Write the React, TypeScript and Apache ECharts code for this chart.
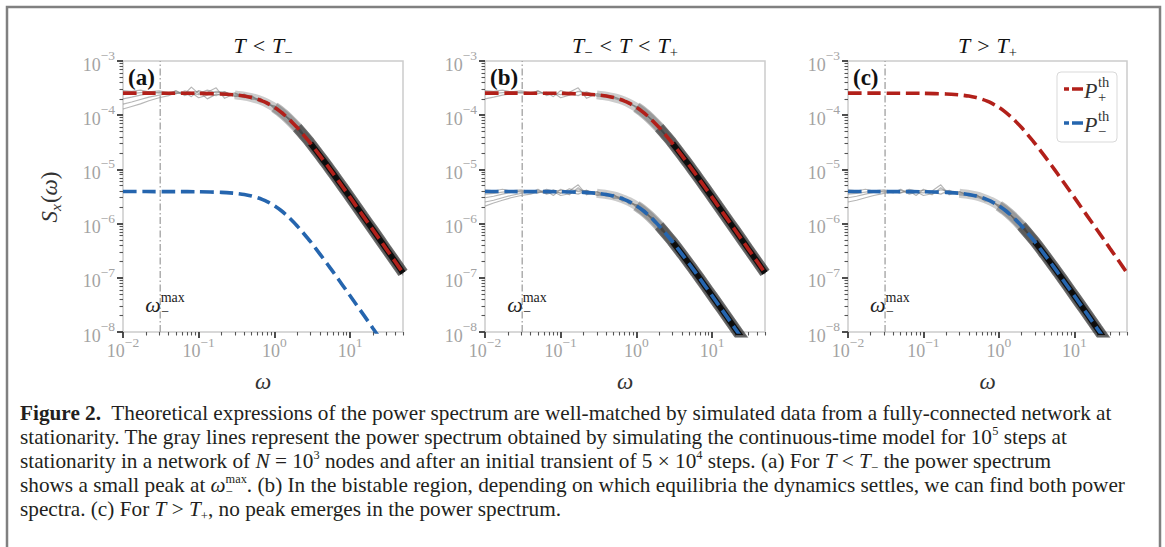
import React, { useEffect, useRef } from 'react';
import * as echarts from 'echarts';

// ---------------- data ----------------
const THEORY_W = [0.01, 0.02, 0.05, 0.1, 0.2, 0.3, 0.4, 0.5, 0.6, 0.7, 0.8, 1, 1.2, 1.5, 2, 2.5, 3, 4, 5, 6, 8, 10, 12, 15, 20, 25, 30, 40, 50];
const P_PLUS_TH = [2.55e-4, 2.55e-4, 2.545e-4, 2.529e-4, 2.468e-4, 2.373e-4, 2.253e-4, 2.113e-4, 1.965e-4, 1.815e-4, 1.668e-4, 1.396e-4, 1.164e-4, 8.92e-5, 5.92e-5, 4.12e-5, 3.03e-5, 1.79e-5, 1.18e-5, 8.29e-6, 4.73e-6, 3.05e-6, 2.12e-6, 1.36e-6, 7.69e-7, 4.93e-7, 3.42e-7, 1.93e-7, 1.23e-7];
const P_MINUS_TH = [3.9e-6, 3.9e-6, 3.89e-6, 3.87e-6, 3.775e-6, 3.63e-6, 3.445e-6, 3.232e-6, 3.006e-6, 2.776e-6, 2.551e-6, 2.136e-6, 1.781e-6, 1.364e-6, 9.06e-7, 6.3e-7, 4.63e-7, 2.74e-7, 1.8e-7, 1.27e-7, 7.23e-8, 4.66e-8, 3.25e-8, 2.09e-8, 1.176e-8, 7.54e-9, 5.24e-9, 2.95e-9, 1.89e-9];

const SIM_W = [0.01, 0.013, 0.017, 0.022, 0.03, 0.04, 0.05, 0.065, 0.08, 0.1, 0.13, 0.17, 0.22, 0.3, 0.4, 0.5, 0.65, 0.8, 1, 1.3, 1.7, 2.2, 3, 4, 5, 6.5, 8, 10, 13, 17, 22, 30, 40, 50];
const SIM_PLUS_1 = [1.3e-4, 1.45e-4, 1.62e-4, 1.85e-4, 2.1e-4, 2.3e-4, 2.6e-4, 2.45e-4, 3.3e-4, 2.5e-4, 2.9e-4, 2.6e-4, 2.7e-4, 2.2e-4, 2.45e-4, 1.95e-4, 2.05e-4, 1.55e-4, 1.5e-4, 1.0e-4, 8.2e-5, 4.8e-5, 3.3e-5, 1.65e-5, 1.3e-5, 6.6e-6, 5.2e-6, 2.8e-6, 2.0e-6, 9.8e-7, 7.0e-7, 3.1e-7, 2.1e-7, 1.1e-7];
const SIM_PLUS_2 = [1.6e-4, 1.75e-4, 1.95e-4, 2.15e-4, 2.35e-4, 2.55e-4, 2.5e-4, 2.8e-4, 2.65e-4, 2.75e-4, 2.0e-4, 2.45e-4, 2.3e-4, 2.6e-4, 2.1e-4, 2.3e-4, 1.75e-4, 1.8e-4, 1.3e-4, 1.15e-4, 7.0e-5, 5.5e-5, 2.8e-5, 1.95e-5, 1.08e-5, 7.8e-6, 4.3e-6, 3.3e-6, 1.65e-6, 1.15e-6, 5.8e-7, 3.7e-7, 1.78e-7, 1.34e-7];
const SIM_PLUS_3 = [2.0e-4, 2.15e-4, 2.35e-4, 2.5e-4, 2.65e-4, 2.45e-4, 2.85e-4, 2.3e-4, 2.55e-4, 2.4e-4, 2.65e-4, 3.2e-4, 2.05e-4, 2.5e-4, 2.3e-4, 2.15e-4, 1.95e-4, 1.6e-4, 1.45e-4, 1.02e-4, 7.9e-5, 4.9e-5, 3.15e-5, 1.7e-5, 1.24e-5, 6.8e-6, 4.95e-6, 2.9e-6, 1.9e-6, 1.01e-6, 6.7e-7, 3.25e-7, 2.02e-7, 1.17e-7];
const SIM_PLUS_4 = [2.4e-4, 2.5e-4, 2.6e-4, 2.7e-4, 2.55e-4, 2.6e-4, 2.5e-4, 2.65e-4, 2.2e-4, 2.85e-4, 2.5e-4, 2.3e-4, 2.7e-4, 2.25e-4, 2.2e-4, 2.05e-4, 1.82e-4, 1.75e-4, 1.35e-4, 1.1e-4, 7.2e-5, 5.3e-5, 2.9e-5, 1.88e-5, 1.13e-5, 7.4e-6, 4.5e-6, 3.2e-6, 1.72e-6, 1.11e-6, 6.1e-7, 3.6e-7, 1.85e-7, 1.29e-7];
const SIM_PLUS_5 = [2.85e-4, 2.75e-4, 2.9e-4, 2.7e-4, 2.8e-4, 2.6e-4, 2.75e-4, 2.45e-4, 2.6e-4, 2.1e-4, 2.35e-4, 2.75e-4, 2.6e-4, 2.35e-4, 2.35e-4, 2.2e-4, 1.85e-4, 1.7e-4, 1.42e-4, 1.08e-4, 7.6e-5, 5.0e-5, 3.0e-5, 1.82e-5, 1.18e-5, 7.0e-6, 4.8e-6, 3.0e-6, 1.85e-6, 1.05e-6, 6.4e-7, 3.4e-7, 1.95e-7, 1.2e-7];
const SIM_MINUS_1 = [2.1e-6, 2.4e-6, 2.7e-6, 3.0e-6, 3.3e-6, 3.5e-6, 3.9e-6, 3.6e-6, 4.2e-6, 3.6e-6, 4.4e-6, 3.9e-6, 4.1e-6, 3.3e-6, 3.6e-6, 2.9e-6, 3.1e-6, 2.3e-6, 2.25e-6, 1.5e-6, 1.25e-6, 7.2e-7, 5.0e-7, 2.5e-7, 1.95e-7, 1.0e-7, 7.9e-8, 4.3e-8, 3.0e-8, 1.5e-8, 1.05e-8, 4.8e-9, 3.0e-9, 2.0e-9];
const SIM_MINUS_2 = [2.5e-6, 2.7e-6, 3.0e-6, 3.3e-6, 3.6e-6, 3.9e-6, 3.7e-6, 4.3e-6, 4.0e-6, 4.1e-6, 3.4e-6, 4.6e-6, 3.5e-6, 3.9e-6, 3.2e-6, 3.45e-6, 2.6e-6, 2.7e-6, 2.0e-6, 1.75e-6, 1.05e-6, 8.4e-7, 4.2e-7, 2.95e-7, 1.65e-7, 1.17e-7, 6.6e-8, 5.0e-8, 2.5e-8, 1.75e-8, 8.9e-9, 5.6e-9, 2.7e-9, 2.0e-9];
const SIM_MINUS_3 = [3.0e-6, 3.2e-6, 3.5e-6, 3.75e-6, 4.0e-6, 3.7e-6, 4.3e-6, 3.5e-6, 3.8e-6, 3.7e-6, 4.0e-6, 5.2e-6, 3.4e-6, 3.8e-6, 3.45e-6, 3.25e-6, 3.0e-6, 2.45e-6, 2.2e-6, 1.55e-6, 1.2e-6, 7.5e-7, 4.8e-7, 2.6e-7, 1.88e-7, 1.03e-7, 7.6e-8, 4.4e-8, 2.9e-8, 1.55e-8, 1.02e-8, 5.0e-9, 3.1e-9, 1.8e-9];
const SIM_MINUS_4 = [3.5e-6, 3.6e-6, 3.8e-6, 4.0e-6, 3.8e-6, 3.9e-6, 3.7e-6, 4.0e-6, 3.3e-6, 4.3e-6, 3.8e-6, 3.5e-6, 4.1e-6, 3.4e-6, 3.3e-6, 3.1e-6, 2.75e-6, 2.65e-6, 2.05e-6, 1.7e-6, 1.1e-6, 8.1e-7, 4.4e-7, 2.85e-7, 1.72e-7, 1.13e-7, 6.9e-8, 4.9e-8, 2.6e-8, 1.7e-8, 9.3e-9, 5.5e-9, 2.8e-9, 1.95e-9];
const SIM_MINUS_5 = [4.2e-6, 4.0e-6, 4.3e-6, 4.0e-6, 4.2e-6, 3.9e-6, 4.1e-6, 3.7e-6, 3.9e-6, 3.3e-6, 3.55e-6, 4.2e-6, 4.0e-6, 3.55e-6, 3.55e-6, 3.35e-6, 2.8e-6, 2.55e-6, 2.15e-6, 1.65e-6, 1.15e-6, 7.7e-7, 4.6e-7, 2.75e-7, 1.8e-7, 1.07e-7, 7.3e-8, 4.55e-8, 2.8e-8, 1.6e-8, 9.6e-9, 5.3e-9, 2.9e-9, 1.9e-9];

const OMEGA_MAX = 0.031;
const X_MIN = 0.01;
const X_MAX = 50;
const Y_MIN = 1e-8;
const Y_MAX = 1e-3;
const X_DECADES = [-2, -1, 0, 1];
const Y_DECADES = [-8, -7, -6, -5, -4, -3];
const MINOR_FACTORS = [2, 3, 4, 5, 6, 7, 8, 9];

const PANEL_SIMS_PLUS = [[SIM_PLUS_1, SIM_PLUS_2, SIM_PLUS_3, SIM_PLUS_4, SIM_PLUS_5], [SIM_PLUS_3, SIM_PLUS_4, SIM_PLUS_5], []];
const PANEL_SIMS_MINUS = [[], [SIM_MINUS_1, SIM_MINUS_2, SIM_MINUS_3, SIM_MINUS_4, SIM_MINUS_5], [SIM_MINUS_2, SIM_MINUS_3, SIM_MINUS_4, SIM_MINUS_5]];
const PANEL_BAND_PLUS = [true, true, false];
const PANEL_BAND_MINUS = [false, true, true];
const PANEL_LETTERS = ['(a)', '(b)', '(c)'];

// ---------------- style ----------------
const FONT = '"Liberation Serif", "Times New Roman", Times, serif';
const RED = '#b2201a';
const BLUE = '#2565ae';
const TICK_LABEL = '#a3a3a3';
const GRIDS = [
  { left: 123, top: 61, width: 280, height: 271 },
  { left: 485, top: 61, width: 280, height: 271 },
  { left: 848, top: 61, width: 279, height: 271 },
];

type Seg = { t: string; it?: boolean; bd?: boolean; k?: number; dy?: number; hold?: boolean; pl?: number; pr?: number };

let measureCtx: CanvasRenderingContext2D | null = null;
function textWidth(t: string, size: number, it?: boolean, bd?: boolean): number {
  if (!measureCtx) measureCtx = document.createElement('canvas').getContext('2d');
  if (!measureCtx) return t.length * size * 0.5;
  measureCtx.font = `${it ? 'italic ' : ''}${bd ? 'bold ' : ''}${size}px ${FONT}`;
  return measureCtx.measureText(t).width;
}

function layoutSegs(segs: Seg[], base: number) {
  const placed: any[] = [];
  let x = 0;
  let hold = -1;
  for (const s of segs) {
    const size = base * (s.k ?? 1);
    const w = textWidth(s.t, size, s.it, s.bd);
    if (hold < 0) x += s.pl ?? 0;
    placed.push({ s, x, size });
    if (s.hold) { hold = w; continue; }
    x += Math.max(w, hold < 0 ? 0 : hold) + (s.pr ?? 0);
    hold = -1;
  }
  return { placed, width: x };
}

function mathText(segs: Seg[], base: number, x0: number, yc: number, color: string, align = 'left', z = 50): any[] {
  const { placed, width } = layoutSegs(segs, base);
  const start = align === 'center' ? x0 - width / 2 : align === 'right' ? x0 - width : x0;
  return placed.map((p) => ({
    type: 'text',
    silent: true,
    z,
    x: start + p.x,
    y: yc + (p.s.dy ?? 0) * base,
    style: {
      text: p.s.t,
      fontSize: p.size,
      fontFamily: FONT,
      fontStyle: p.s.it ? 'italic' : 'normal',
      fontWeight: p.s.bd ? 'bold' : 'normal',
      fill: color,
      align: 'left',
      verticalAlign: 'middle',
      textAlign: 'left',
      textVerticalAlign: 'middle',
    },
  }));
}

const T: Seg = { t: 'T', it: true };
const rel = (c: string): Seg => ({ t: c, pl: 7, pr: 7 });
const sub = (t: string): Seg => ({ t, k: 0.66, dy: 0.3 });
const capSub = (t: string): Seg => ({ t, k: 0.6, dy: 0.34 });
const capSup = (t: string, hold = false): Seg => ({ t, k: 0.58, dy: -0.28, hold });

const PANEL_TITLES: Seg[][] = [
  [T, rel('<'), T, sub('−')],
  [T, sub('−'), rel('<'), T, rel('<'), T, sub('+')],
  [T, rel('>'), T, sub('+')],
];

const CAPTION_LINES: Seg[][] = [
  [{ t: 'Figure 2.', bd: true }, { t: '  Theoretical expressions of the power spectrum are well-matched by simulated data from a fully-connected network at' }],
  [{ t: 'stationarity. The gray lines represent the power spectrum obtained by simulating the continuous-time model for 10' }, capSup('5'), { t: ' steps at' }],
  [{ t: 'stationarity in a network of ' }, { t: 'N', it: true }, { t: ' = 10' }, capSup('3'), { t: ' nodes and after an initial transient of 5 × 10' }, capSup('4'), { t: ' steps. (a) For ' }, { t: 'T', it: true }, { t: ' < ' }, { t: 'T', it: true }, capSub('−'), { t: ' the power spectrum' }],
  [{ t: 'shows a small peak at ' }, { t: 'ω', it: true }, capSup('max', true), capSub('−'), { t: '. (b) In the bistable region, depending on which equilibria the dynamics settles, we can find both power' }],
  [{ t: 'spectra. (c) For ' }, { t: 'T', it: true }, { t: ' > ' }, { t: 'T', it: true }, capSub('+'), { t: ', no peak emerges in the power spectrum.' }],
];

const LEGEND_ITEMS = [
  { color: RED, sub: '+' },
  { color: BLUE, sub: '−' },
];

// ---------------- option ----------------
const lg = (v: number) => Math.log10(v);
const toXY = (ws: number[], vs: number[]) => ws.map((w, i) => [lg(w), lg(vs[i])]);
const onlyFrom = (ws: number[], vs: number[], from: number) =>
  toXY(ws, vs).filter((_, i) => ws[i] >= from);

function minorTicks(decades: number[], hi: number): number[] {
  const out: number[] = [];
  for (const d of decades) for (const k of MINOR_FACTORS) {
    const v = d + lg(k);
    if (v <= hi + 1e-9) out.push(v);
  }
  return out;
}

const labelFmt = (v: number) => {
  const n = Math.round(v);
  return `{b|10}{s|${n < 0 ? '−' : ''}${Math.abs(n)}}`;
};
const labelRich = {
  b: { fontSize: 18, fontFamily: FONT, color: TICK_LABEL, lineHeight: 25, verticalAlign: 'bottom' },
  s: { fontSize: 13.5, fontFamily: FONT, color: TICK_LABEL, lineHeight: 14, verticalAlign: 'top' },
};

function buildOption(): any {
  const xLo = lg(X_MIN), xHi = lg(X_MAX), yLo = lg(Y_MIN), yHi = lg(Y_MAX);
  const xMinor = minorTicks(X_DECADES, xHi);
  const yMinor = minorTicks(Y_DECADES.slice(0, -1), yHi);
  const grid: any[] = [];
  const xAxis: any[] = [];
  const yAxis: any[] = [];
  const series: any[] = [];

  const line = (i: number, data: any[], lineStyle: any, z: number, extra: any = {}) => ({
    type: 'line', xAxisIndex: 2 * i, yAxisIndex: 2 * i, data, symbol: 'none', symbolSize: 0, showSymbol: false,
    silent: true, clip: true, animation: false, lineStyle, z, emphasis: { disabled: true }, ...extra,
  });
  const axisBase = (i: number, lo: number, hi: number, position: string) => ({
    type: 'value', gridIndex: i, min: lo, max: hi, position, offset: 0,
    axisLine: { show: false, onZero: false }, splitLine: { show: false },
  });
  const labelBase = (margin: number) => ({
    show: true, margin, formatter: labelFmt, rich: labelRich,
    fontSize: 18, fontFamily: FONT, color: TICK_LABEL,
  });

  GRIDS.forEach((g, i) => {
    grid.push({ ...g, show: true, borderColor: '#cccccc', borderWidth: 1.5, backgroundColor: '#ffffff', containLabel: false, outerBoundsMode: 'none' });
    xAxis.push({
      ...axisBase(i, xLo, xHi, 'bottom'),
      axisTick: { show: true, customValues: X_DECADES, length: 6, lineStyle: { color: '#3a3a3a', width: 1.8 } },
      axisLabel: { ...labelBase(3), customValues: X_DECADES },
    });
    xAxis.push({
      ...axisBase(i, xLo, xHi, 'bottom'),
      axisLabel: { show: false },
      axisTick: { show: true, customValues: xMinor, length: 3.5, lineStyle: { color: '#555555', width: 1.1 } },
    });
    yAxis.push({
      ...axisBase(i, yLo, yHi, 'left'),
      axisTick: { show: true, customValues: Y_DECADES, length: 6, lineStyle: { color: '#3a3a3a', width: 1.8 } },
      axisLabel: { ...labelBase(8), customValues: Y_DECADES },
    });
    yAxis.push({
      ...axisBase(i, yLo, yHi, 'left'),
      axisLabel: { show: false },
      axisTick: { show: true, customValues: yMinor, length: 3.5, lineStyle: { color: '#555555', width: 1.1 } },
    });

    const sims = [...PANEL_SIMS_PLUS[i], ...PANEL_SIMS_MINUS[i]];
    sims.forEach((arr) => series.push(line(i, toXY(SIM_W, arr), { color: 'rgba(130,130,130,0.58)', width: 1.2, join: 'round' }, 2)));
    const bands: number[][] = [];
    if (PANEL_BAND_PLUS[i]) bands.push(P_PLUS_TH);
    if (PANEL_BAND_MINUS[i]) bands.push(P_MINUS_TH);
    bands.forEach((th) => {
      series.push(line(i, onlyFrom(THEORY_W, th, 0.3), { color: 'rgba(110,110,110,0.35)', width: 9, cap: 'butt' }, 3, { smooth: 0.2 }));
      series.push(line(i, onlyFrom(THEORY_W, th, 1), { color: 'rgba(60,60,60,0.35)', width: 11, cap: 'butt' }, 3, { smooth: 0.2 }));
      series.push(line(i, onlyFrom(THEORY_W, th, 2), { color: 'rgba(30,30,30,0.5)', width: 11, cap: 'butt' }, 3, { smooth: 0.2 }));
      series.push(line(i, onlyFrom(THEORY_W, th, 3), { color: 'rgba(5,5,5,0.9)', width: 6, cap: 'butt' }, 4, { smooth: 0.2 }));
    });
    series.push(line(i, [[lg(OMEGA_MAX), yLo], [lg(OMEGA_MAX), yHi]], { color: '#a0a0a0', width: 1.3, type: [7, 2.5, 1.5, 2.5] }, 5));
    series.push(line(i, toXY(THEORY_W, P_PLUS_TH), { color: RED, width: 3.6, type: [13.5, 5.8], cap: 'butt' }, 6, { smooth: 0.2 }));
    series.push(line(i, toXY(THEORY_W, P_MINUS_TH), { color: BLUE, width: 3.6, type: [13.5, 5.8], cap: 'butt' }, 6, { smooth: 0.2 }));
  });

  return { animation: false, backgroundColor: '#ffffff', grid, xAxis, yAxis, series };
}

function buildGraphics(chart: any): any[] {
  const els: any[] = [];
  els.push({ type: 'rect', silent: true, z: 60, shape: { x: 7, y: 7, width: 1153, height: 620 }, style: { fill: 'none', stroke: '#808080', lineWidth: 2.5 } });

  GRIDS.forEach((g, i) => {
    const cx = g.left + g.width / 2;
    els.push(...mathText(PANEL_TITLES[i], 22, cx, 45, '#111111', 'center'));
    els.push(...mathText([{ t: PANEL_LETTERS[i], bd: true }], 23, g.left + 5, 77, '#111111'));
    els.push(...mathText([{ t: 'ω', it: true }], 23, cx, 381, '#333333', 'center'));
    const p = chart.convertToPixel({ gridIndex: i }, [lg(OMEGA_MAX), lg(Y_MIN)]);
    if (p) {
      const px = p[0];
      const by = p[1];
      const wW = textWidth('ω', 22, true);
      els.push(...mathText([{ t: 'ω', it: true }], 22, px - wW + 0.5, by - 28, '#222222'));
      els.push(...mathText([{ t: 'max' }], 14, px + 0.5, by - 35, '#222222'));
      els.push(...mathText([{ t: '−' }], 14, px + 1, by - 21, '#222222'));
    }
  });

  const yl: Seg[] = [{ t: 'S', it: true }, { t: 'x', it: true, k: 0.68, dy: 0.3, pr: 1 }, { t: '(' }, { t: 'ω', it: true }, { t: ')' }];
  els.push({ type: 'group', x: 49, y: 197, rotation: Math.PI / 2, children: mathText(yl, 23, 0, 0, '#333333', 'center') });

  els.push({ type: 'rect', silent: true, z: 40, shape: { x: 1057, y: 72, width: 60, height: 70, r: 4 }, style: { fill: 'rgba(255,255,255,0.85)', stroke: '#d9d9d9', lineWidth: 1 } });
  LEGEND_ITEMS.forEach((it, k) => {
    const y = 89 + k * 34;
    els.push({ type: 'line', silent: true, z: 41, shape: { x1: 1064, y1: y, x2: 1083, y2: y }, style: { stroke: it.color, lineWidth: 3.6, lineDash: [5, 3, 13.5, 5.8] } });
    const pW = textWidth('P', 22, true);
    els.push(...mathText([{ t: 'P', it: true }], 22, 1084, y + 1, '#333333', 'left', 42));
    els.push(...mathText([{ t: 'th' }], 14.5, 1084 + pW + 0.5, y - 7, '#333333', 'left', 42));
    els.push(...mathText([{ t: it.sub }], 14.5, 1084 + pW + 0.5, y + 8, '#333333', 'left', 42));
  });

  const refW = layoutSegs(CAPTION_LINES[0], 19.5).width;
  let cs = refW > 0 ? (19.5 * 1092) / refW : 19.5;
  cs = Math.max(17, Math.min(21.5, cs));
  CAPTION_LINES.forEach((segs, k) => {
    els.push(...mathText(segs, cs, 20, 413 + k * 24, '#231f20'));
  });
  return els;
}

export default function App() {
  const ref = useRef<HTMLDivElement>(null);
  useEffect(() => {
    if (!ref.current) return;
    const chart = echarts.init(ref.current, null, { renderer: 'svg' });
    chart.setOption(buildOption());
    chart.setOption({ graphic: buildGraphics(chart) });
    return () => chart.dispose();
  }, []);
  return (
    <div
      ref={ref}
      style={{ position: 'absolute', left: 0, top: 0, width: 1165, height: 547, background: '#ffffff' }}
    />
  );
}
